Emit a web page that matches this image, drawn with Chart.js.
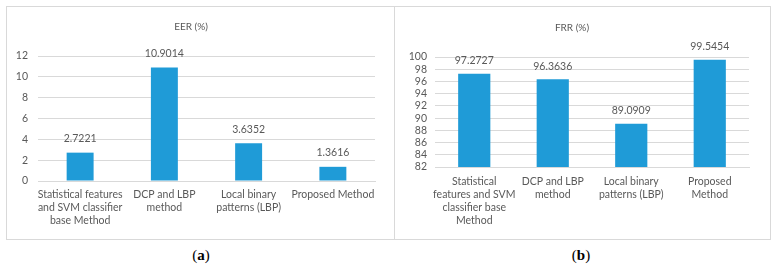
<!DOCTYPE html>
<html>
<head>
<meta charset="utf-8">
<script src="https://cdn.jsdelivr.net/npm/chart.js@4"></script>
<style>
  body { margin: 0; background: #fff; width: 776px; height: 266px; position: relative; overflow: hidden; }
  .box { position: absolute; border: 1px solid #d9d9d9; }
  .box canvas { display: block; }
  .cap { position: absolute; top: 247px; font-family: "Liberation Serif", serif; font-size: 15px; color: #000; text-align: center; width: 40px; }
</style>
</head>
<body>
<div class="box" style="left:6px; top:6px; width:387px; height:232px;">
  <canvas id="eer" width="387" height="232"></canvas>
</div>
<div class="box" style="left:394px; top:6px; width:375px; height:232px;">
  <canvas id="frr" width="375" height="232"></canvas>
</div>
<div class="cap" style="left:181px;">(<b>a</b>)</div>
<div class="cap" style="left:561px;">(<b>b</b>)</div>

<script>
// values
const eerLabels = [
  ['Statistical features', 'and SVM classifier', 'base Method'],
  ['DCP and LBP', 'method'],
  ['Local binary', 'patterns (LBP)'],
  'Proposed Method'
]
const eerValues = [2.7221, 10.9014, 3.6352, 1.3616]

const frrLabels = [
  ['Statistical', 'features and SVM', 'classifier base', 'Method'],
  ['DCP and LBP', 'method'],
  ['Local binary', 'patterns (LBP)'],
  ['Proposed', 'Method']
]
const frrValues = [97.2727, 96.3636, 89.0909, 99.5454]

const textGray = '#595959'
const barBlue = '#1f9bd7'
const fontFamily = 'Lato, "Liberation Sans", sans-serif'

Chart.defaults.font.family = fontFamily
Chart.defaults.color = textGray
Chart.defaults.animation = false

// write the value over every bar
const valueLabels = {
  id: 'valueLabels',
  afterDatasetsDraw(chart, args, opts) {
    const ctx = chart.ctx
    const meta = chart.getDatasetMeta(0)
    ctx.save()
    ctx.font = '10.5px ' + fontFamily
    ctx.fillStyle = textGray
    ctx.textAlign = 'center'
    ctx.textBaseline = 'middle'
    meta.data.forEach(function (bar, i) {
      const v = chart.data.datasets[0].data[i]
      ctx.fillText(v.toFixed(4), bar.x, bar.y - opts.offset)
    })
    ctx.restore()
  }
}

function makeChart(id, cfg) {
  return new Chart(document.getElementById(id).getContext('2d'), {
    type: 'bar',
    data: {
      labels: cfg.labels,
      datasets: [{
        data: cfg.values,
        backgroundColor: barBlue,
        barPercentage: cfg.barPct,
        categoryPercentage: 1
      }]
    },
    options: {
      responsive: false,
      layout: { padding: { left: 0, right: cfg.padRight, top: 0, bottom: 0 } },
      plugins: {
        legend: { display: false },
        tooltip: { enabled: false },
        title: {
          display: true,
          text: cfg.title,
          color: textGray,
          font: { size: 10, weight: 'normal', lineHeight: 1.2 },
          padding: { top: cfg.titleTop, bottom: cfg.titleBottom }
        },
        valueLabels: { offset: cfg.labelOffset }
      },
      scales: {
        x: {
          grid: { display: false, drawTicks: false },
          border: { display: true, color: '#d9d9d9' },
          ticks: { maxRotation: 0, autoSkip: false, padding: cfg.xPad, font: { size: 10.5, lineHeight: 1.25 } },
          afterFit: function (s) { s.height = cfg.xHeight }
        },
        y: {
          min: cfg.min,
          max: cfg.max,
          grid: { color: '#d9d9d9', drawTicks: false },
          border: { display: false },
          ticks: { stepSize: 2, autoSkip: false, padding: cfg.yPad, font: { size: 10.5 } },
          afterFit: function (s) { s.width = cfg.yWidth }
        }
      }
    },
    plugins: [valueLabels]
  })
}

makeChart('eer', {
  labels: eerLabels, values: eerValues, title: 'EER (%)',
  min: 0, max: 12, barPct: 0.32,
  padRight: 19, yWidth: 31, yPad: 10,
  titleTop: 14, titleBottom: 23, xHeight: 58, xPad: 7,
  labelOffset: 14
})

makeChart('frr', {
  labels: frrLabels, values: frrValues, title: 'FRR (%)',
  min: 82, max: 100, barPct: 0.41,
  padRight: 21, yWidth: 40, yPad: 8,
  titleTop: 15, titleBottom: 23, xHeight: 72, xPad: 8,
  labelOffset: 13
})
</script>
</body>
</html>
